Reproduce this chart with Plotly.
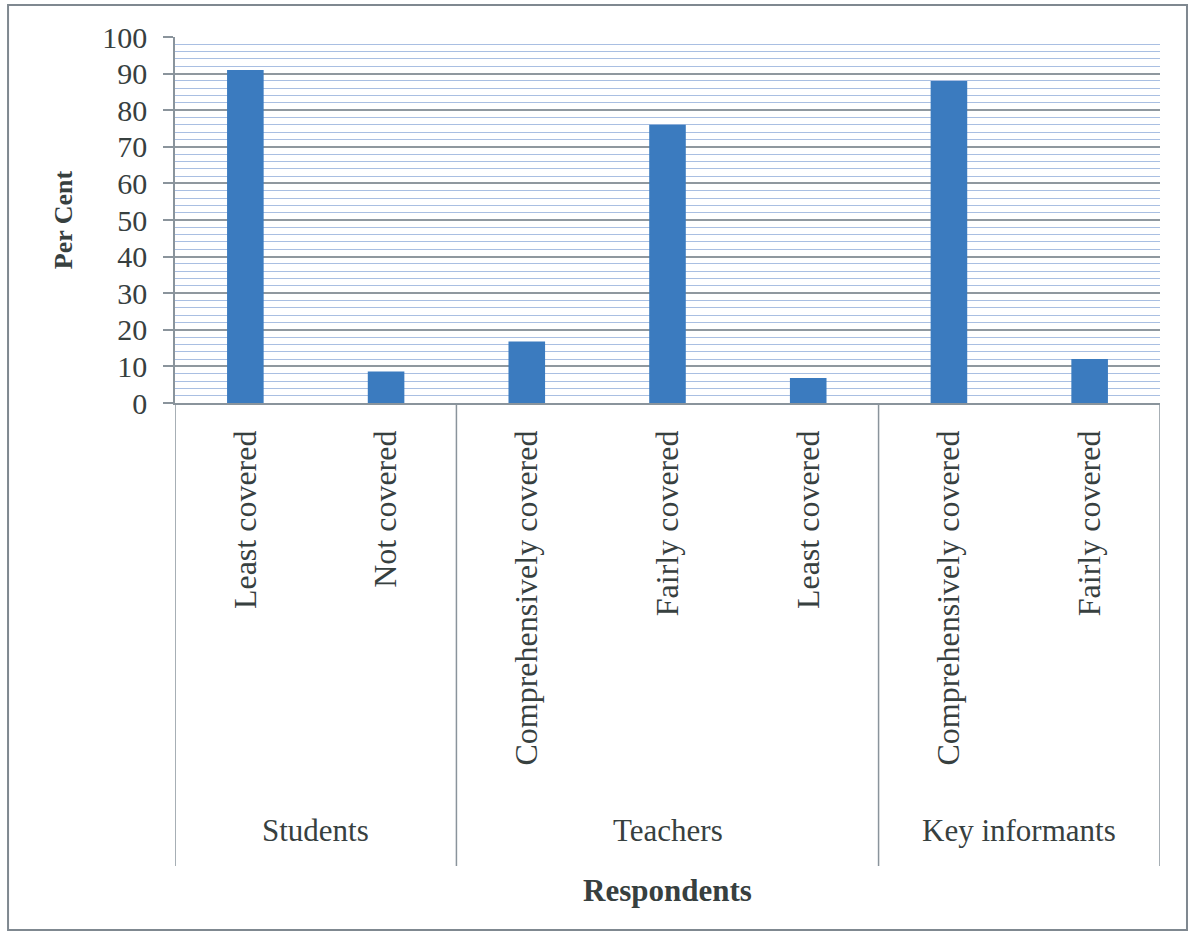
import plotly.graph_objects as go

# Respondent groups and coverage ratings
groups = ["Students", "Teachers", "Key informants"]
group_sizes = [2, 3, 2]
ratings = ["Least covered", "Not covered", "Comprehensively covered",
           "Fairly covered", "Least covered", "Comprehensively covered",
           "Fairly covered"]
percent = [91, 8.6, 16.8, 76, 6.8, 88, 12]

y_ticks = list(range(0, 101, 10))

TEXT = "#37403f"
LINE = "#8a949c"
FONT = "Liberation Serif, Times New Roman, serif"

positions = list(range(len(ratings)))

fig = go.Figure(
    go.Bar(
        x=positions,
        y=percent,
        marker=dict(color="#3b7bbf", line=dict(width=0)),
        width=0.26,
    )
)

# group boundaries and centres along the category axis
bounds = [-0.5]
for n in group_sizes:
    bounds.append(bounds[-1] + n)
centres = [(a + b) / 2 for a, b in zip(bounds[:-1], bounds[1:])]

# plot area is 366 px tall; paper offsets below the axis in px
PLOT_H = 366.0


def below(px):
    return -px / PLOT_H


shapes = [
    dict(type="rect", xref="paper", yref="paper",
         x0=-0.1695, x1=1.0274, y0=-1.44, y1=1.0875,
         line=dict(color="#7f8890", width=2), fillcolor="rgba(0,0,0,0)",
         layer="below"),
]
for b in bounds:
    shapes.append(dict(type="line", xref="x", yref="paper",
                       x0=b, x1=b, y0=0, y1=below(463),
                       line=dict(color=LINE, width=1.5)))

annotations = [
    dict(text=g, x=c, xref="x", y=below(427), yref="paper",
         showarrow=False, xanchor="center", yanchor="middle",
         font=dict(size=31, family=FONT, color=TEXT))
    for g, c in zip(groups, centres)
]
annotations.append(
    dict(text="<b>Respondents</b>", x=0.5, xref="paper", y=below(487),
         yref="paper", showarrow=False, xanchor="center", yanchor="middle",
         font=dict(size=31, family=FONT, color=TEXT))
)

fig.update_layout(
    width=1194,
    height=936,
    margin=dict(l=175, r=34, t=37, b=533),
    paper_bgcolor="white",
    plot_bgcolor="white",
    font=dict(family=FONT, color=TEXT, size=31),
    showlegend=False,
    shapes=shapes,
    annotations=annotations,
)

fig.update_xaxes(
    range=[bounds[0], bounds[-1]],
    tickvals=positions,
    ticktext=ratings,
    tickangle=-90,
    tickfont=dict(size=32, family=FONT, color=TEXT),
    ticklabelstandoff=13,
    showline=True, linecolor=LINE, linewidth=1.5,
    showgrid=False, zeroline=False,
    ticks="",
)

fig.update_yaxes(
    range=[0, 100],
    tickvals=y_ticks,
    ticktext=[str(v) for v in y_ticks],
    tickfont=dict(size=30, family=FONT, color=TEXT),
    ticks="outside", ticklen=10, tickcolor=LINE, tickwidth=1.5,
    ticklabelstandoff=10,
    showline=True, linecolor=LINE, linewidth=1.5,
    showgrid=True, gridcolor="#8f989f", gridwidth=1.5,
    minor=dict(dtick=2, showgrid=True, gridcolor="#a9bfe2", gridwidth=1.2),
    zeroline=False,
    title=dict(text="<b>Per Cent</b>", font=dict(size=26, family=FONT, color=TEXT),
               standoff=22),
)

fig.write_html("out.html")
